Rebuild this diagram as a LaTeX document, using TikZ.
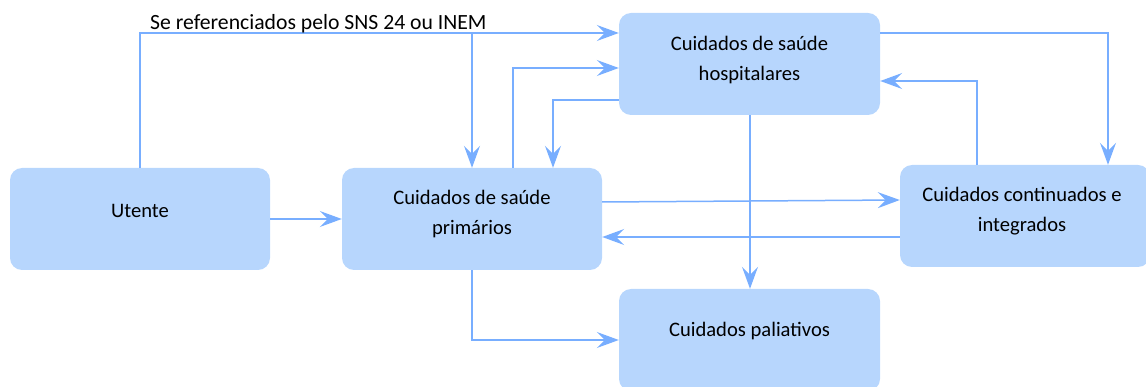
\documentclass[tikz,border=0pt]{standalone}
\usepackage{fontspec}
\setmainfont{Carlito}
\usetikzlibrary{arrows.meta}
\definecolor{boxblue}{HTML}{B7D6FD}
\definecolor{lineblue}{HTML}{78AEFF}
\tikzset{
  box/.style={fill=boxblue, draw=none, rounded corners=12pt, minimum height=102pt, inner sep=0pt},
  boxtext/.style={font=\fontsize{20.6}{30}\selectfont, align=center, text=black},
  arr/.style={draw=lineblue, line width=1.5pt, -{Stealth[length=22pt, width=16pt, inset=8pt]}},
  lbl/.style={font=\fontsize{21.7}{25}\selectfont, text=black, inner sep=0pt}
}
\begin{document}
\begin{tikzpicture}[x=1pt, y=-1pt]
\useasboundingbox (0,0) rectangle (1146,387);
\node[box, minimum width=260pt, label={[boxtext, yshift=8pt]center:Utente}] (ut) at (140,219) {};
\node[box, minimum width=260pt, label={[boxtext, yshift=5pt]center:Cuidados de saúde\\primários}] (pr) at (472,219) {};
\node[box, minimum width=261pt, label={[boxtext, yshift=4pt]center:Cuidados de saúde\\hospitalares}] (ho) at (749.5,64) {};
\node[box, minimum width=250pt, label={[boxtext, yshift=5pt, xshift=-3pt]center:Cuidados continuados e\\integrados}] (co) at (1025,216) {};
\node[box, minimum width=261pt, label={[boxtext, yshift=9pt]center:Cuidados paliativos}] (pa) at (749.5,340) {};
\coordinate (j1) at (472,33);
\draw[arr] (ut.north) |- ([yshift=31pt]ho.west);
\node[lbl, anchor=base west] (lb) at (150,30) {Se referenciados pelo SNS 24 ou INEM};
\draw[arr] (j1) -- (pr.north);
\draw[arr] ([xshift=41pt]pr.north) |- ([yshift=-4pt]ho.west);
\draw[arr] ([yshift=-36pt]ho.west) -| ([xshift=81pt]pr.north);
\draw[arr] (ut.east) -- (pr.west);
\draw[arr] ([yshift=17pt]pr.east) -- ([yshift=16pt]co.west);
\draw[arr] ([yshift=-21pt]co.west) -- ([yshift=-18pt]pr.east);
\draw[arr] ([xshift=0.5pt]ho.south) -- ([xshift=0.5pt]pa.north);
\draw[arr] (pr.south) |- (pa.west);
\draw[arr] ([yshift=31pt]ho.east) -| ([xshift=83pt]co.north);
\draw[arr] ([xshift=-48pt]co.north) |- ([yshift=-17pt]ho.east);
\end{tikzpicture}
\end{document}
